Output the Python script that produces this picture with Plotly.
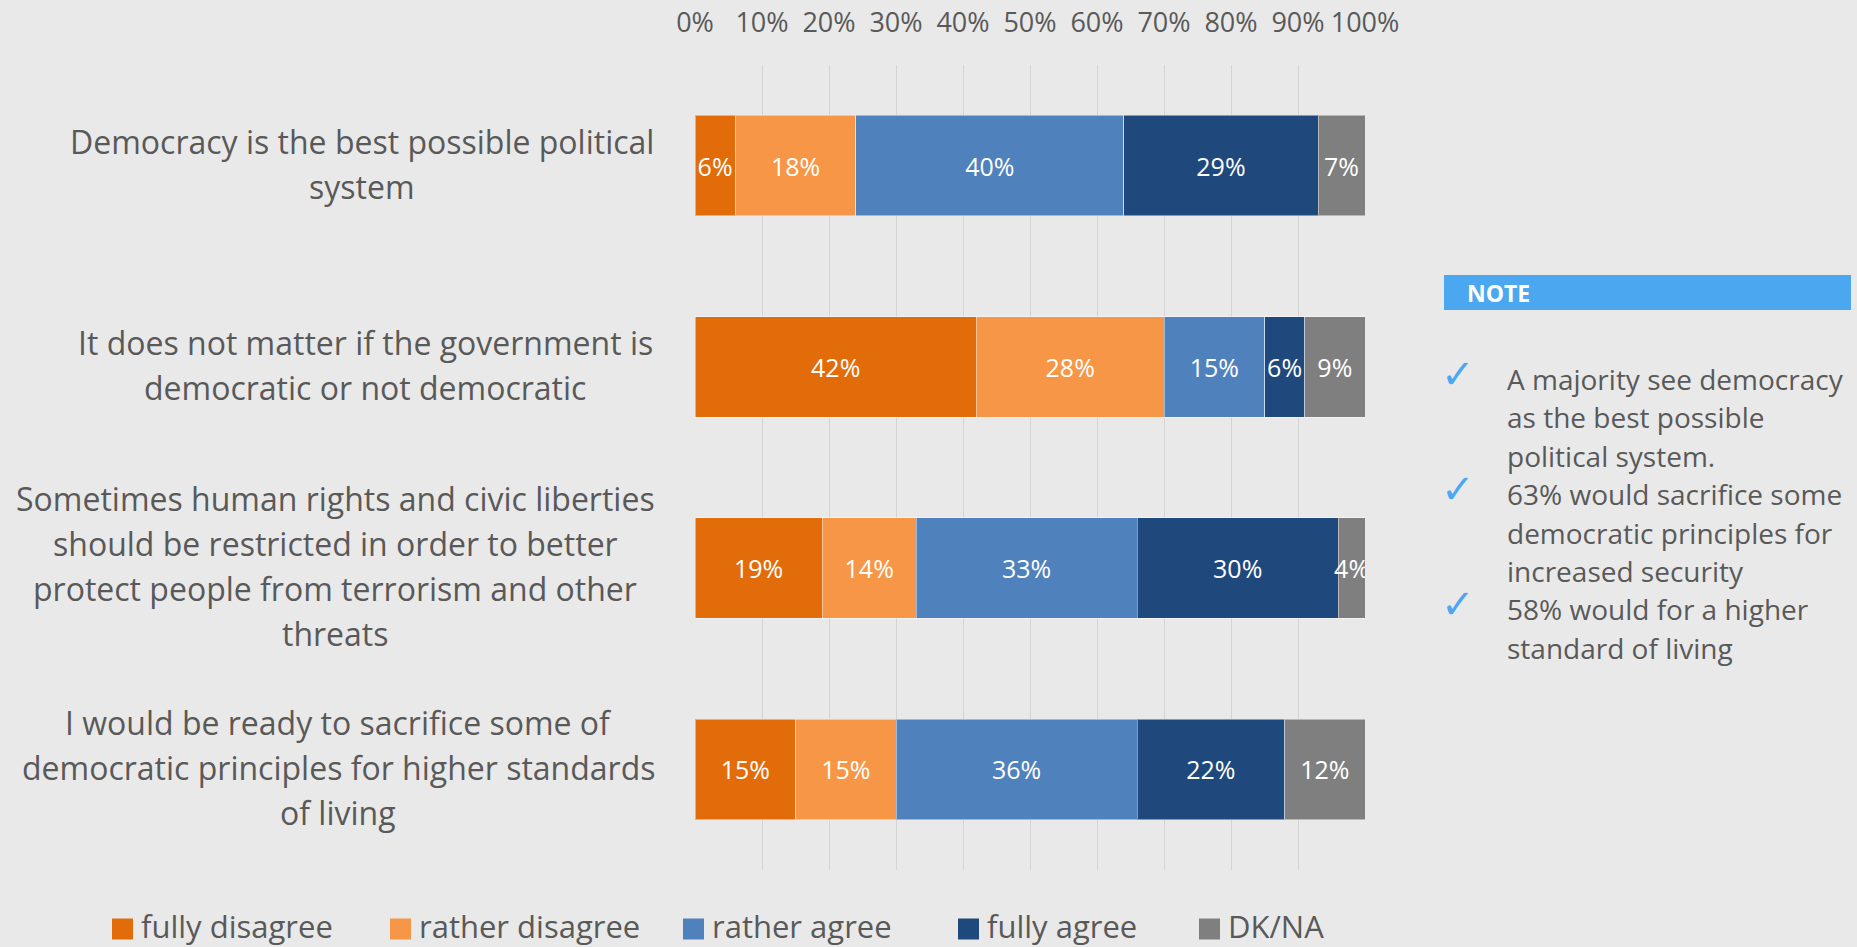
import plotly.graph_objects as go

# ---- data -------------------------------------------------------------
label_lines = [
    ["Democracy is the best possible political", "system"],
    ["It does not matter if the government is", "democratic or not democratic"],
    ["Sometimes human rights and civic liberties", "should be restricted in order to better",
     "protect people from terrorism and other", "threats"],
    ["I would be ready to sacrifice some of", "democratic principles for higher standards",
     "of living"],
]
statements = [" ".join(lines) for lines in label_lines]

series_names = ["fully disagree", "rather disagree", "rather agree", "fully agree", "DK/NA"]
fully_disagree = [6, 42, 19, 15]
rather_disagree = [18, 28, 14, 15]
rather_agree = [40, 15, 33, 36]
fully_agree = [29, 6, 30, 22]
dk_na = [7, 9, 4, 12]
series_values = [fully_disagree, rather_disagree, rather_agree, fully_agree, dk_na]

x_ticks = list(range(0, 101, 10))
x_tick_labels = [f"{t}%" for t in x_ticks]

note_title = "NOTE"
note_points = [
    ["A majority see democracy", "as the best possible", "political system."],
    ["63% would sacrifice some", "democratic principles for", "increased security"],
    ["58% would for a higher", "standard of living"],
]

# ---- styling ----------------------------------------------------------
colors = ["#E36C0A", "#F79646", "#4F81BD", "#1F497D", "#7F7F7F"]
BG = "#E9E9E9"
GRID = "#D4D4D4"
TEXT = "#595959"
ACCENT = "#4BA8F0"
FONT = "Open Sans"

W, H = 1857, 947
L, R, T, B = 695, 1365, 65, 870  # plot area in pixels


def fx(px):
    return (px - L) / (R - L)


def fy(py):
    return (B - py) / (B - T)


fig = go.Figure()
for name, vals, col in zip(series_names, series_values, colors):
    fig.add_trace(go.Bar(
        y=statements, x=vals, name=name, orientation="h",
        marker=dict(color=col, line=dict(color="rgba(255,255,255,0.45)", width=1)),
        text=[f"{v}%" for v in vals], textposition="inside", textangle=0,
        insidetextanchor="middle", constraintext="none",
        textfont=dict(family=FONT, size=25, color="white"),
        showlegend=False, hoverinfo="skip",
    ))

annotations = []
shapes = []

# category labels, one line each, centred within a right-aligned block
label_centres = [362, 365, 335, 338]
line_gap = 45
for stmt, lines, cx in zip(statements, label_lines, label_centres):
    n = len(lines)
    for i, line in enumerate(lines):
        annotations.append(dict(
            x=fx(cx), xref="paper", y=stmt, yref="y",
            yshift=-(i - (n - 1) / 2) * line_gap + 2,
            text=line, showarrow=False, xanchor="center", yanchor="middle",
            font=dict(family=FONT, size=32, color=TEXT),
        ))

# legend drawn below the chart
legend_x = [112, 390, 683, 958, 1199]
legend_y = 926
sq = 21
for name, col, lx in zip(series_names, colors, legend_x):
    shapes.append(dict(type="rect", xref="paper", yref="paper",
                       x0=fx(lx), x1=fx(lx + sq), y0=fy(legend_y + sq / 2 + 3), y1=fy(legend_y - sq / 2 + 3),
                       fillcolor=col, line=dict(width=0)))
    annotations.append(dict(x=fx(lx + sq + 6), y=fy(legend_y), xref="paper", yref="paper",
                            text=name, showarrow=False, xanchor="left", yanchor="middle",
                            font=dict(family=FONT, size=31, color=TEXT)))

# note panel
shapes.append(dict(type="rect", xref="paper", yref="paper",
                   x0=fx(1444), x1=fx(1851), y0=fy(310), y1=fy(275),
                   fillcolor=ACCENT, line=dict(width=0)))
annotations.append(dict(x=fx(1465), y=fy(293), xref="paper", yref="paper",
                        text=f"<b>{note_title}</b>", showarrow=False, xanchor="left", yanchor="middle",
                        font=dict(family=FONT, size=23, color="white")))
note_top = 379
note_gap = 38.4
row = 0
for point in note_points:
    annotations.append(dict(x=fx(1458), y=fy(note_top + row * note_gap - 5), xref="paper", yref="paper",
                            text="✓", showarrow=False, xanchor="center", yanchor="middle",
                            font=dict(family="DejaVu Sans", size=40, color=ACCENT)))
    for line in point:
        annotations.append(dict(x=fx(1505), y=fy(note_top + row * note_gap), xref="paper", yref="paper",
                                text=line, showarrow=False, xanchor="left", yanchor="middle",
                                font=dict(family=FONT, size=28, color=TEXT)))
        row += 1

fig.update_layout(
    width=W, height=H,
    margin=dict(l=L, r=W - R, t=T, b=H - B, pad=0, autoexpand=False),
    paper_bgcolor=BG, plot_bgcolor=BG,
    barmode="stack", bargap=0.5,
    showlegend=False,
    uniformtext=dict(minsize=25, mode="show"),
    xaxis=dict(range=[0, 100], side="top", tickvals=x_ticks, ticktext=x_tick_labels,
               showgrid=True, gridcolor=GRID, gridwidth=1, zeroline=False, showline=False,
               ticks="", ticklabelstandoff=27, automargin=False,
               tickfont=dict(family=FONT, size=27, color=TEXT), fixedrange=True),
    yaxis=dict(autorange="reversed", showticklabels=False, showgrid=False, zeroline=False,
               showline=False, ticks="", automargin=False, fixedrange=True),
    annotations=annotations, shapes=shapes,
)

fig.write_html("out.html")
